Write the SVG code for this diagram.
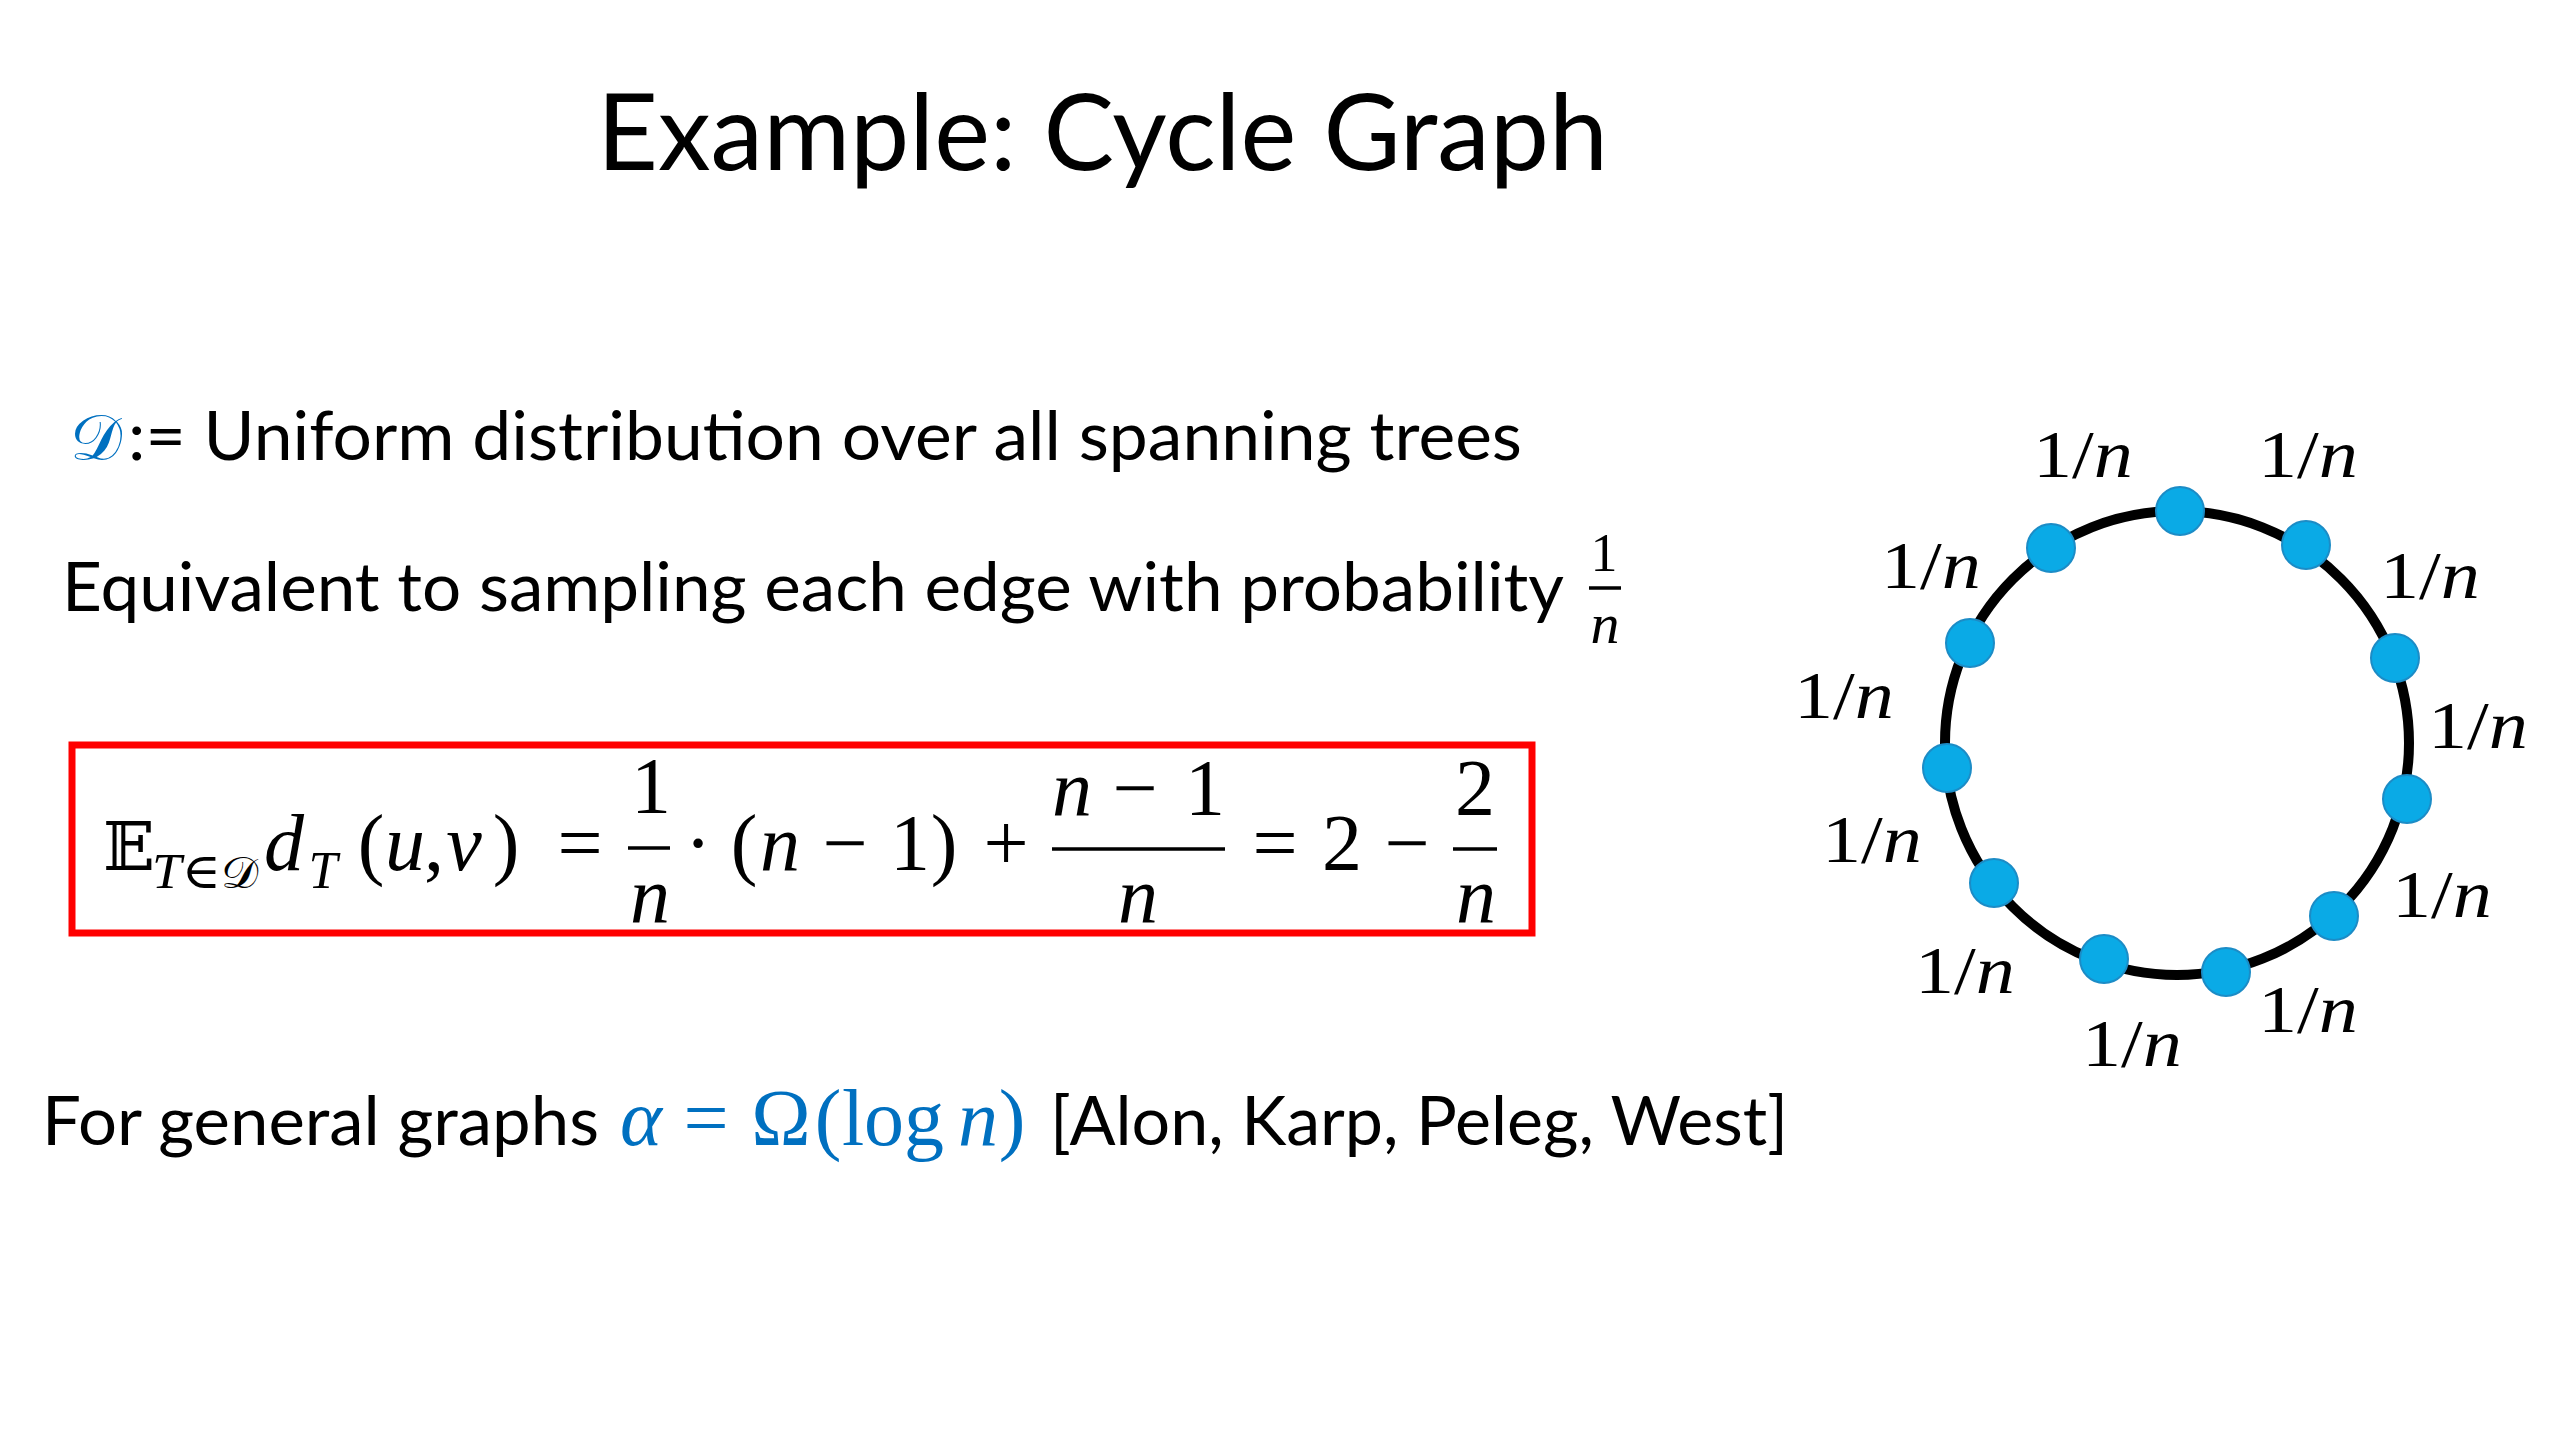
<svg xmlns="http://www.w3.org/2000/svg" width="2560" height="1440" viewBox="0 0 2560 1440">
<style>
.body{font-family:Lato,"Open Sans","Noto Sans",sans-serif;fill:#000}
.m{font-family:"Liberation Serif","DejaVu Serif",serif;fill:#000;font-size:80px}
.mi{font-family:"Liberation Serif","DejaVu Serif",serif;font-style:italic;fill:#000;font-size:80px}
.ds{font-family:"DejaVu Serif","DejaVu Sans",serif;fill:#000}
.blue{fill:#0070C0}
.lbl{font-family:"Liberation Serif","DejaVu Serif",serif;font-size:68px;fill:#000}
.node{fill:#0AAAE6;stroke:#1C8CC6;stroke-width:2}
.bar{stroke:#000;stroke-width:3.5}
</style>
<rect width="2560" height="1440" fill="#fff"/>

<g id="title">
<text class="body" x="597" y="170" font-size="106" textLength="1011" lengthAdjust="spacingAndGlyphs">Example: Cycle Graph</text>
</g>

<g id="line1">
<text class="ds blue" x="70" y="460" font-size="64" textLength="52" lengthAdjust="spacingAndGlyphs">𝒟</text>
<text class="body" x="128" y="460" font-size="67" textLength="1394" lengthAdjust="spacingAndGlyphs">:= Uniform distribution over all spanning trees</text>
</g>

<g id="line2">
<text class="body" x="62" y="611" font-size="67" textLength="1502" lengthAdjust="spacingAndGlyphs">Equivalent to sampling each edge with probability</text>
<text class="m" x="1604" y="571" style="font-size:54px" text-anchor="middle">1</text>
<line class="bar" x1="1589" y1="588" x2="1621" y2="588" stroke-width="3"/>
<text class="mi" x="1605" y="643" style="font-size:58px" text-anchor="middle">n</text>
</g>

<g id="equation">
<rect x="72" y="745" width="1460" height="188" fill="none" stroke="#FF0000" stroke-width="7"/>
<text class="ds" x="129" y="870" font-size="68" text-anchor="middle">𝔼</text>
<text x="152" y="888" font-size="50" textLength="106" lengthAdjust="spacingAndGlyphs"><tspan class="mi" style="font-size:50px">T</tspan><tspan class="m" style="font-size:50px">∈</tspan><tspan class="ds" font-size="44">𝒟</tspan></text>
<text class="mi" x="284" y="870" text-anchor="middle">d</text>
<text class="mi" x="323" y="888" style="font-size:52px" text-anchor="middle">T</text>
<text class="m" x="371" y="870" text-anchor="middle">(</text>
<text class="mi" x="405" y="870" text-anchor="middle">u</text>
<text class="m" x="434" y="870" text-anchor="middle">,</text>
<text class="mi" x="464" y="870" text-anchor="middle">v</text>
<text class="m" x="506" y="870" text-anchor="middle">)</text>
<text class="m" x="580" y="870" text-anchor="middle">=</text>
<text class="m" x="651" y="813" text-anchor="middle">1</text>
<line class="bar" x1="628" y1="848" x2="670" y2="848"/>
<text class="mi" x="650" y="922" text-anchor="middle">n</text>
<text class="m" x="698" y="870" text-anchor="middle">·</text>
<text class="m" x="744" y="870" text-anchor="middle">(</text>
<text class="mi" x="780" y="870" text-anchor="middle">n</text>
<text class="m" x="845" y="870" text-anchor="middle">−</text>
<text class="m" x="910" y="870" text-anchor="middle">1</text>
<text class="m" x="944" y="870" text-anchor="middle">)</text>
<text class="m" x="1006" y="870" text-anchor="middle">+</text>
<text class="mi" x="1072" y="815" text-anchor="middle">n</text>
<text class="m" x="1135" y="815" text-anchor="middle">−</text>
<text class="m" x="1205" y="815" text-anchor="middle">1</text>
<line class="bar" x1="1052" y1="849" x2="1225" y2="849"/>
<text class="mi" x="1138" y="922" text-anchor="middle">n</text>
<text class="m" x="1275" y="870" text-anchor="middle">=</text>
<text class="m" x="1342" y="870" text-anchor="middle">2</text>
<text class="m" x="1407" y="870" text-anchor="middle">−</text>
<text class="m" x="1475" y="815" text-anchor="middle">2</text>
<line class="bar" x1="1453" y1="849" x2="1497" y2="849"/>
<text class="mi" x="1476" y="922" text-anchor="middle">n</text>
</g>

<g id="line3">
<text class="body" x="42" y="1145" font-size="67" textLength="557" lengthAdjust="spacingAndGlyphs">For general graphs</text>
<text class="mi blue" x="641" y="1145" text-anchor="middle">α</text>
<text class="m blue" x="706" y="1145" text-anchor="middle">=</text>
<text class="m blue" x="781" y="1145" text-anchor="middle">Ω</text>
<text class="m blue" x="828" y="1145" text-anchor="middle">(</text>
<text class="m blue" x="893" y="1145" text-anchor="middle">log</text>
<text class="mi blue" x="978" y="1145" text-anchor="middle">n</text>
<text class="m blue" x="1012" y="1145" text-anchor="middle">)</text>
<text class="body" x="1050" y="1145" font-size="67" textLength="738" lengthAdjust="spacingAndGlyphs">[Alon, Karp, Peleg, West]</text>
</g>

<g id="connectors">
<circle cx="2177" cy="743" r="232" fill="none" stroke="#000" stroke-width="10"/>
</g>

<g id="nodes">
<circle id="v1" class="node" cx="2180" cy="511" r="24"/>
<circle id="v2" class="node" cx="2306" cy="545" r="24"/>
<circle id="v3" class="node" cx="2395" cy="658" r="24"/>
<circle id="v4" class="node" cx="2407" cy="799" r="24"/>
<circle id="v5" class="node" cx="2334" cy="916" r="24"/>
<circle id="v6" class="node" cx="2226" cy="972" r="24"/>
<circle id="v7" class="node" cx="2104" cy="959" r="24"/>
<circle id="v8" class="node" cx="1994" cy="883" r="24"/>
<circle id="v9" class="node" cx="1947" cy="768" r="24"/>
<circle id="v10" class="node" cx="1970" cy="643" r="24"/>
<circle id="v11" class="node" cx="2051" cy="548" r="24"/>
</g>

<g id="edge-labels">
<text class="lbl" x="2033" y="477" textLength="100" lengthAdjust="spacingAndGlyphs">1/<tspan font-style="italic">n</tspan></text>
<text class="lbl" x="2258" y="477" textLength="100" lengthAdjust="spacingAndGlyphs">1/<tspan font-style="italic">n</tspan></text>
<text class="lbl" x="1881" y="588" textLength="100" lengthAdjust="spacingAndGlyphs">1/<tspan font-style="italic">n</tspan></text>
<text class="lbl" x="2380" y="598" textLength="100" lengthAdjust="spacingAndGlyphs">1/<tspan font-style="italic">n</tspan></text>
<text class="lbl" x="1794" y="718" textLength="100" lengthAdjust="spacingAndGlyphs">1/<tspan font-style="italic">n</tspan></text>
<text class="lbl" x="2428" y="748" textLength="100" lengthAdjust="spacingAndGlyphs">1/<tspan font-style="italic">n</tspan></text>
<text class="lbl" x="1822" y="862" textLength="100" lengthAdjust="spacingAndGlyphs">1/<tspan font-style="italic">n</tspan></text>
<text class="lbl" x="2392" y="917" textLength="100" lengthAdjust="spacingAndGlyphs">1/<tspan font-style="italic">n</tspan></text>
<text class="lbl" x="1915" y="993" textLength="100" lengthAdjust="spacingAndGlyphs">1/<tspan font-style="italic">n</tspan></text>
<text class="lbl" x="2258" y="1032" textLength="100" lengthAdjust="spacingAndGlyphs">1/<tspan font-style="italic">n</tspan></text>
<text class="lbl" x="2082" y="1066" textLength="100" lengthAdjust="spacingAndGlyphs">1/<tspan font-style="italic">n</tspan></text>
</g>
</svg>
